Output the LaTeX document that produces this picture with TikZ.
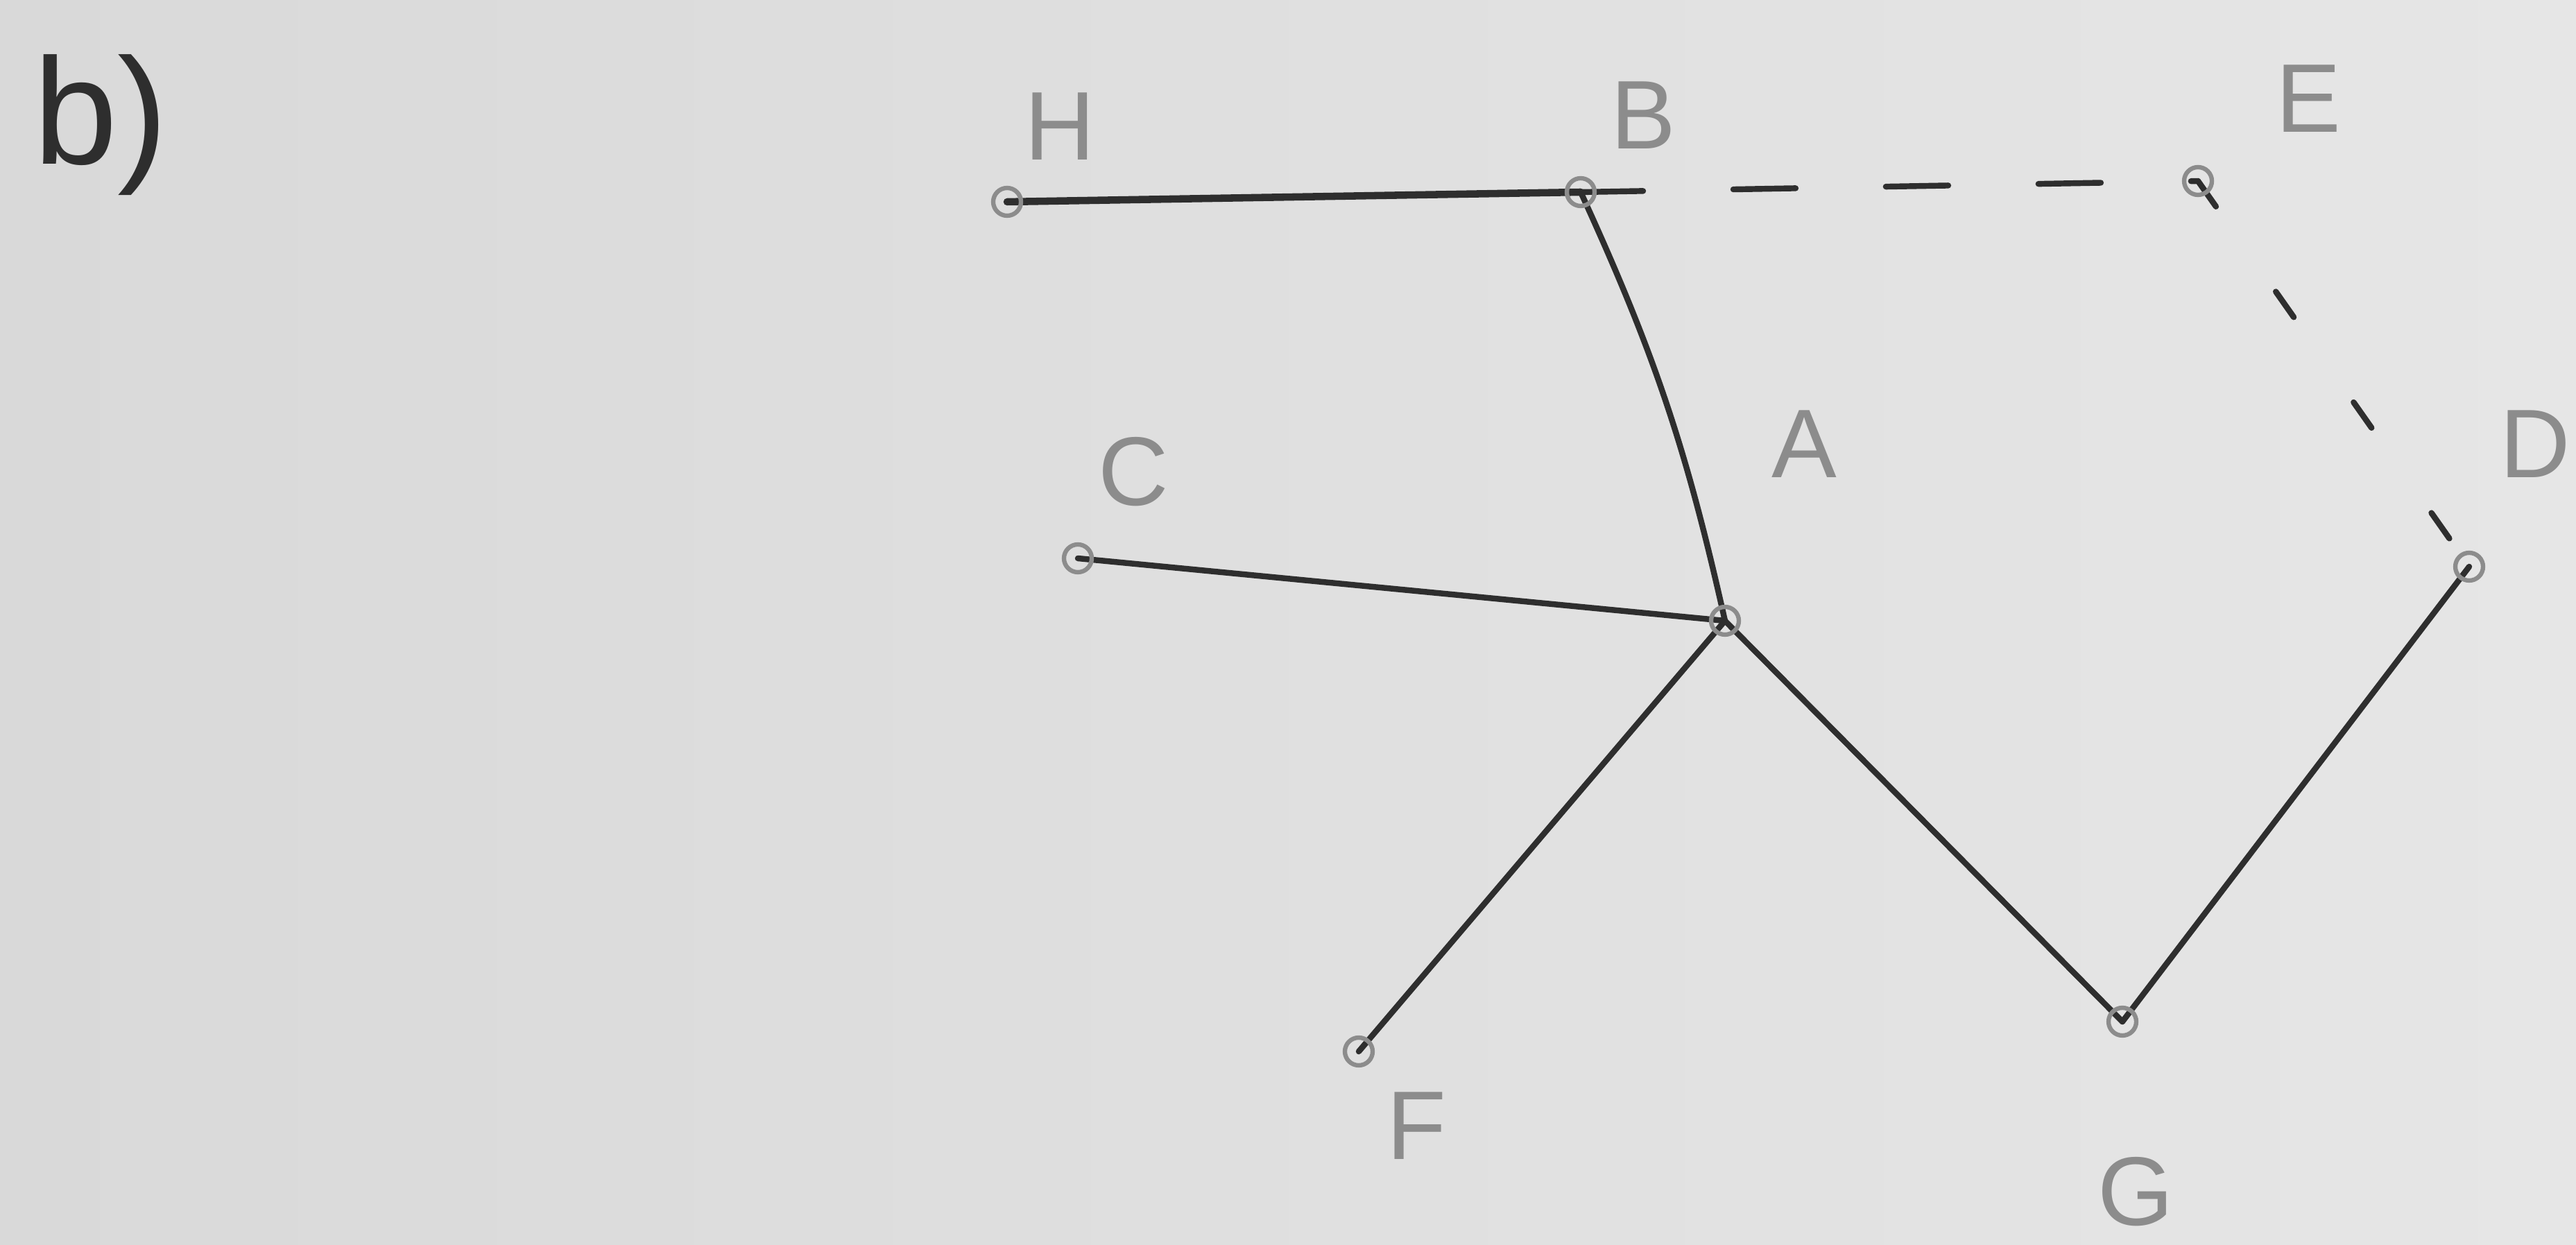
\documentclass[tikz,border=0pt]{standalone}
\usepackage{fontspec}
\setmainfont{Liberation Sans}
\usetikzlibrary{positioning, calc, backgrounds}
\definecolor{paper}{HTML}{D9D9D9}
\definecolor{paperlight}{HTML}{E6E6E6}
\definecolor{pencil}{HTML}{8C8C8C}
\definecolor{ink}{HTML}{2E2E2E}

\begin{document}
\begin{tikzpicture}[
    % Vertex (small pencil circle)
    vertex/.style={
        circle, draw=pencil, line width=1.8pt,
        inner sep=0pt, minimum size=0.4cm
    },
    % Vertex letters
    lbl/.style={
        text=pencil, font=\fontsize{40}{48}\selectfont,
        inner sep=0pt
    },
    % Solid edge
    edge/.style={draw=ink, line width=2.4pt, line cap=round},
    % Dashed edge
    dashedge/.style={draw=ink, line width=2.4pt, line cap=round,
        dash pattern=on 0.9cm off 1.3cm}
]

% Paper
\useasboundingbox (0,0) rectangle (37.14,17.95);

% Part label
\node[text=ink, font=\fontsize{62}{64}\selectfont, inner sep=0pt] (part) at (1.45,16.15) {b)};

% Vertices
\node[vertex] (H) at (14.52,15.04) {};
\node[vertex] (B) at (22.79,15.18) {};
\node[vertex] (E) at (31.69,15.34) {};
\node[vertex] (C) at (15.54,9.90) {};
\node[vertex] (A) at (24.87,9.00) {};
\node[vertex] (D) at (35.60,9.78) {};
\node[vertex] (F) at (19.59,2.79) {};
\node[vertex] (G) at (30.60,3.22) {};

% Letters
\node[lbl] (labH) at ($(H)+(0.76,1.09)$) {H};
\node[lbl] (labB) at ($(B)+(0.90,1.11)$) {B};
\node[lbl] (labE) at ($(E)+(1.59,1.19)$) {E};
\node[lbl] (labC) at ($(C)+(0.80,1.25)$) {C};
\node[lbl] (labA) at ($(A)+(1.14,2.55)$) {A};
\node[lbl] (labD) at ($(D)+(0.95,1.77)$) {D};
\node[lbl] (labF) at ($(F)+(0.83,-1.07)$) {F};
\node[lbl] (labG) at ($(G)+(0.19,-2.45)$) {G};

% Paper and edges
\begin{scope}[on background layer]
    \shade[left color=paper, right color=paperlight] (0,0) rectangle (37.14,17.95);
    \draw[edge, line width=3pt] (H.center) -- (B.center);
    \draw[edge] (B.center) to[bend left=6] (A.center);
    \draw[edge] (C.center) -- (A.center);
    \draw[edge] (A.center) -- (F.center);
    \draw[edge] (A.center) -- (G.center);
    \draw[edge] (G.center) -- (D.center);
    \draw[dashedge] (B.center) -- (E.center);
    \draw[dashedge, dash pattern=on 0.45cm off 1.5cm] (E.center) -- (D.center);
\end{scope}

\end{tikzpicture}
\end{document}
